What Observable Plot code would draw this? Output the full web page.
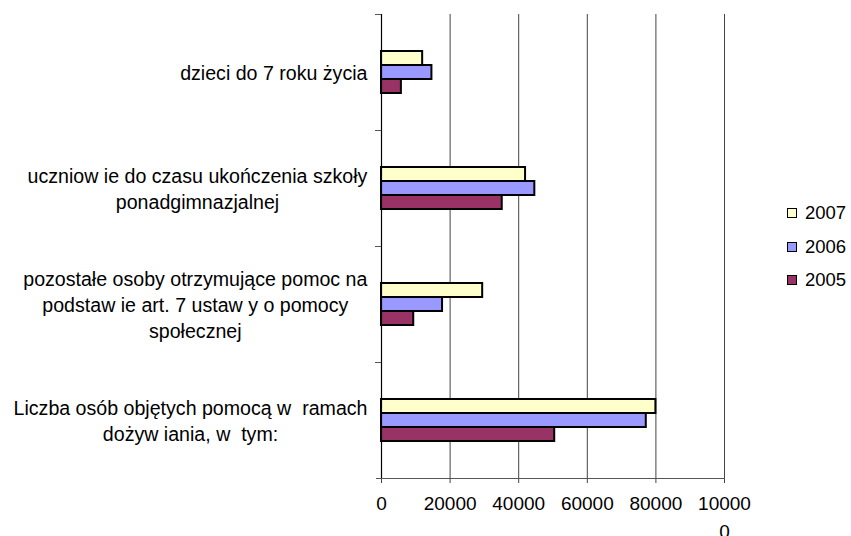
<!DOCTYPE html>
<html><head><meta charset="utf-8">
<script src="https://cdn.jsdelivr.net/npm/d3@7"></script>
<script src="https://cdn.jsdelivr.net/npm/@observablehq/plot@0.6"></script>
<style>
body{margin:0;background:#fff;font-family:"Liberation Sans",Arial,sans-serif;}
#wrap{position:relative;width:851px;height:536px;overflow:hidden;}
#legend{position:absolute;left:787px;top:196px;font-size:18.5px;color:#000;}
.item{display:flex;align-items:center;height:33.7px;}
.sw{width:10px;height:10px;border:1.5px solid #000;box-sizing:border-box;margin-right:8px;}
</style>
</head><body>
<div id="wrap"><div id="chart"></div><div id="legend"></div></div>
<script>
const categories = [
  "dzieci do 7 roku życia",
  "uczniowie do czasu ukończenia szkoły ponadgimnazjalnej",
  "pozostałe osoby otrzymujące pomoc na podstawie art. 7 ustawy o pomocy społecznej",
  "Liczba osób objętych pomocą w ramach dożywiania, w tym:"
];
const categoryLabels = [
  "dzieci do 7 roku życia",
  "uczniow ie do czasu ukończenia szkoły\nponadgimnazjalnej",
  "pozostałe osoby otrzymujące pomoc na\npodstaw ie art. 7 ustaw y o pomocy\nspołecznej",
  "Liczba osób objętych pomocą w  ramach\ndożyw iania, w  tym:"
];
const years = ["2007", "2006", "2005"];
const values2007 = [12000, 42000, 29500, 80000];
const values2006 = [14700, 44700, 17800, 77200];
const values2005 = [5800, 35200, 9400, 50500];
const colors = ["#FFFFCC", "#9999FF", "#993366"];
const xTicks = [0, 20000, 40000, 60000, 80000, 100000];
const xTickLabels = ["0", "20000", "40000", "60000", "80000", "10000\n0"];

const series = [values2007, values2006, values2005];
const rows = [];
categories.forEach((c, i) => years.forEach((y, j) => rows.push({category: c, year: y, value: series[j][i]})));

const font = '"Liberation Sans", Arial, sans-serif';
const chart = Plot.plot({
  width: 851, height: 536,
  marginLeft: 381, marginRight: 127, marginTop: 14, marginBottom: 58,
  style: {fontFamily: font, fontSize: "19px", color: "#000", background: "#fff", overflow: "visible"},
  x: {domain: [0, 100000], axis: null},
  y: {domain: years, paddingInner: 0, paddingOuter: 2.45, axis: null},
  fy: {domain: categories, padding: 0, axis: null},
  color: {domain: years, range: colors},
  marks: [
    Plot.gridX(xTicks.slice(1), {stroke: "#444", strokeOpacity: 1, strokeWidth: 1}),
    Plot.barX(rows, {x: "value", y: "year", fy: "category", fill: "year", stroke: "#000", strokeWidth: 2}),
    Plot.ruleX([0], {stroke: "#000", strokeWidth: 1.2}),
    Plot.axisFy({anchor: "left", label: null, tickSize: 6, dy: -58, tickFormat: () => "", stroke: "#555"}),
    Plot.axisFy({anchor: "left", label: null, tickSize: 0, tickPadding: 14, textAnchor: "end", lineHeight: 1.33,
      dy: -1, fontSize: 19.6, tickFormat: d => categoryLabels[categories.indexOf(d)]}),
    Plot.axisX(xTicks, {anchor: "bottom", label: null, tickSize: 5, tickPadding: 7, lineHeight: 1.47, stroke: "#444",
      tickFormat: d => xTickLabels[xTicks.indexOf(d)]}),
    Plot.frame({anchor: "bottom", facet: "super", insetLeft: -5, stroke: "#555"})
  ]
});
document.getElementById("chart").append(chart);

// center multi-line category labels while keeping them right-aligned as a block
chart.querySelectorAll('g[aria-label="fy-axis tick label"] text').forEach(t => {
  if (!t.textContent) return;
  const w = t.getBBox().width;
  t.setAttribute("text-anchor", "middle");
  const spans = t.querySelectorAll("tspan");
  if (spans.length) spans.forEach(s => s.setAttribute("x", -w / 2));
  else t.setAttribute("x", -w / 2);
});

const legend = document.getElementById("legend");
years.forEach((y, i) => {
  const it = document.createElement("div"); it.className = "item";
  const sw = document.createElement("div"); sw.className = "sw"; sw.style.background = colors[i];
  const tx = document.createElement("span"); tx.textContent = y;
  it.append(sw, tx); legend.append(it);
});
</script>
</body></html>
